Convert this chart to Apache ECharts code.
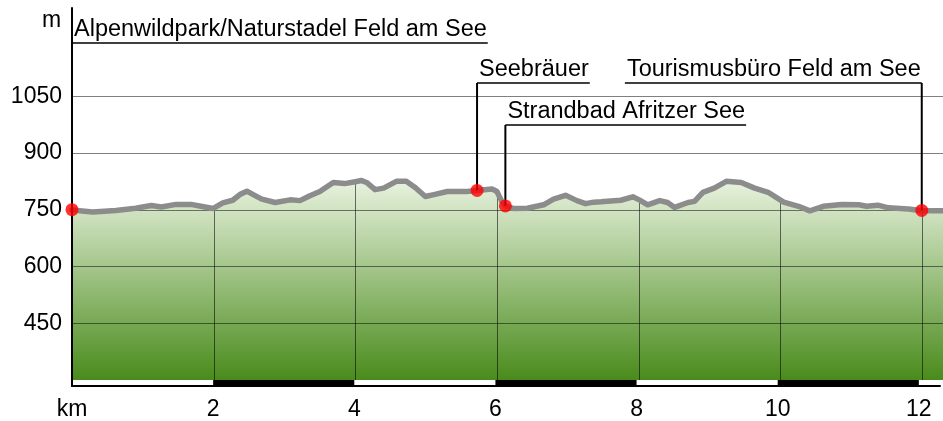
<!DOCTYPE html>
<html><head><meta charset="utf-8">
<script src="https://cdn.jsdelivr.net/npm/echarts@6/dist/echarts.min.js"></script>
<style>html,body{margin:0;padding:0;background:#fff}#c{width:943px;height:421px}</style>
</head><body><div id="c"></div>
<script>
// ---- data ----
const profileKm = [0.00,0.29,0.62,0.90,1.12,1.26,1.47,1.68,1.82,1.99,2.13,2.27,2.37,2.47,2.56,2.68,2.87,3.08,3.22,3.36,3.50,3.69,3.85,4.00,4.09,4.16,4.28,4.40,4.58,4.72,4.85,4.99,5.11,5.30,5.58,5.72,5.93,6.00,6.07,6.12,6.24,6.43,6.66,6.80,6.97,7.13,7.25,7.37,7.47,7.75,7.92,8.01,8.13,8.30,8.41,8.51,8.70,8.79,8.91,9.07,9.24,9.45,9.64,9.83,10.05,10.26,10.42,10.61,10.87,11.11,11.22,11.38,11.53,11.81,12.01,12.30];
const profileElev = [749,744,748,754,761,757,764,764,759,753,768,775,790,799,790,778,769,776,774,787,798,822,819,824,827,822,803,807,825,825,808,785,790,798,798,801,805,798,772,760,753,754,763,778,788,774,766,770,771,775,784,776,763,774,769,756,769,772,796,807,825,822,807,796,770,759,747,759,764,763,759,762,755,752,747,747];
const poiNames = ['Alpenwildpark/Naturstadel Feld am See','Seebräuer','Strandbad Afritzer See','Tourismusbüro Feld am See'];
const poiKm = [0, 5.72, 6.12, 12.0];
const poiElev = [750, 801, 760, 748];
const yTickLabels = [450, 600, 750, 900, 1050];
const xTickLabels = [2, 4, 6, 8, 10, 12];
const scaleBlack = [[2, 4], [6, 8], [10, 12]];
const yUnit = 'm';
const xUnit = 'km';

// ---- layout / style ----
const FONT = '"Liberation Sans", Arial, sans-serif';
const FS = 23;
const FS_ANN = 23.5;
const X_MAX = 12.3, Y_MIN = 300, Y_MAX = 1283;
const poiLayout = [{lineY: 43, dir: 1}, {lineY: 83, dir: 1}, {lineY: 125, dir: 1}, {lineY: 83, dir: -1}];

const mctx = document.createElement('canvas').getContext('2d');
mctx.font = FS_ANN + 'px ' + FONT;
function textW(t) { return mctx.measureText(t).width; }
function elevAt(k) {
  for (let i = 1; i < profileKm.length; i++) {
    if (k <= profileKm[i]) {
      const t = (k - profileKm[i-1]) / (profileKm[i] - profileKm[i-1]);
      return profileElev[i-1] + t * (profileElev[i] - profileElev[i-1]);
    }
  }
  return profileElev[profileElev.length - 1];
}
const profile = profileKm.map((k, i) => [k, profileElev[i]]);

const chart = echarts.init(document.getElementById('c'), null, {renderer: 'canvas'});
chart.setOption({
  animation: false,
  grid: [
    {left: 72, right: 0, top: 8, height: 372},
    {left: 72, right: 0, top: 380, height: 9}
  ],
  xAxis: [
    {gridIndex: 0, type: 'value', min: 0, max: X_MAX, show: false},
    {gridIndex: 1, type: 'value', min: 0, max: X_MAX, interval: 2,
     axisLine: {show: true, lineStyle: {color: '#000', width: 2}},
     axisTick: {show: false}, splitLine: {show: false},
     axisLabel: {margin: 12, fontSize: FS, fontFamily: FONT, color: '#000', showMinLabel: true, showMaxLabel: true,
       formatter: v => v === 0 ? xUnit : (xTickLabels.indexOf(v) >= 0 ? String(v) : '')}}
  ],
  yAxis: [
    {gridIndex: 0, type: 'value', min: Y_MIN, max: Y_MAX, interval: 150, z: 5,
     axisLine: {show: true, lineStyle: {color: '#000', width: 2}},
     axisTick: {show: false}, splitLine: {show: false},
     axisLabel: {margin: 10, fontSize: FS, fontFamily: FONT, color: '#000',
       formatter: v => yTickLabels.indexOf(v) >= 0 ? String(v) : ''}},
    {gridIndex: 1, type: 'value', min: 0, max: 1, z: 5,
     axisLine: {show: true, lineStyle: {color: '#000', width: 2}},
     axisTick: {show: false}, splitLine: {show: false}, axisLabel: {show: false}}
  ],
  graphic: [{type: 'text', left: 42, top: 9, style: {text: yUnit, fontSize: FS, fontFamily: FONT, fill: '#000'}}],
  series: [
    {type: 'line', xAxisIndex: 0, yAxisIndex: 0, data: profile, showSymbol: false, z: 1,
     lineStyle: {width: 0, opacity: 0},
     areaStyle: {origin: 'start', opacity: 1, color: new echarts.graphic.LinearGradient(0, 180, 0, 380, [
       {offset: 0, color: '#e9f3e0'}, {offset: 1, color: '#4a8b1c'}], true)}},
    {type: 'custom', xAxisIndex: 0, yAxisIndex: 0, z: 2, data: xTickLabels.map(v => [v, Y_MIN]),
     renderItem: (params, api) => {
       const k = api.value(0);
       const p0 = api.coord([k, Y_MIN]), p1 = api.coord([k, elevAt(k)]);
       return {type: 'line', shape: {x1: Math.round(p0[0]) + 0.5, y1: p0[1], x2: Math.round(p0[0]) + 0.5, y2: p1[1]},
               style: {stroke: 'rgba(0,0,0,0.55)', lineWidth: 1}};
     }},
    {type: 'custom', xAxisIndex: 0, yAxisIndex: 0, z: 3, data: yTickLabels.map(v => [0, v]),
     renderItem: (params, api) => {
       const cs = params.coordSys;
       const y = Math.round(api.coord([0, api.value(1)])[1]) + 0.5;
       return {type: 'line', shape: {x1: cs.x, y1: y, x2: cs.x + cs.width, y2: y},
               style: {stroke: 'rgba(0,0,0,0.5)', lineWidth: 1}};
     }},
    {type: 'line', xAxisIndex: 0, yAxisIndex: 0, data: profile, showSymbol: false, z: 4,
     lineStyle: {color: '#8c8c8c', width: 5.5, cap: 'round', join: 'round'}},
    {type: 'custom', xAxisIndex: 1, yAxisIndex: 1, z: 3, data: scaleBlack,
     renderItem: (params, api) => {
       const a = api.coord([api.value(0), 1]), b = api.coord([api.value(1), 0]);
       return {type: 'rect', shape: {x: a[0], y: a[1], width: b[0] - a[0], height: b[1] - a[1]}, style: {fill: '#000'}};
     }},
    {type: 'custom', xAxisIndex: 0, yAxisIndex: 0, z: 6, data: poiKm.map((k, i) => [k, poiElev[i]]),
     renderItem: (params, api) => {
       const i = params.dataIndex;
       const p = api.coord([api.value(0), api.value(1)]);
       const L = poiLayout[i];
       const w = textW(poiNames[i]) + 3;
       const x0 = L.dir > 0 ? p[0] : p[0] - w;
       return {type: 'group', children: [
         {type: 'line', shape: {x1: p[0], y1: p[1], x2: p[0], y2: L.lineY}, style: {stroke: '#000', lineWidth: 2}},
         {type: 'line', shape: {x1: x0, y1: L.lineY, x2: x0 + w, y2: L.lineY}, style: {stroke: '#000', lineWidth: 1.5}},
         {type: 'text', x: x0 + 2, y: L.lineY - 1,
          style: {text: poiNames[i], fontSize: FS_ANN, fontFamily: FONT, fill: '#000', align: 'left', verticalAlign: 'bottom'}}
       ]};
     }},
    {type: 'scatter', xAxisIndex: 0, yAxisIndex: 0, z: 10, symbolSize: 13,
     itemStyle: {color: '#ff0000'}, data: poiKm.map((k, i) => [k, poiElev[i]])}
  ]
});
</script></body></html>
